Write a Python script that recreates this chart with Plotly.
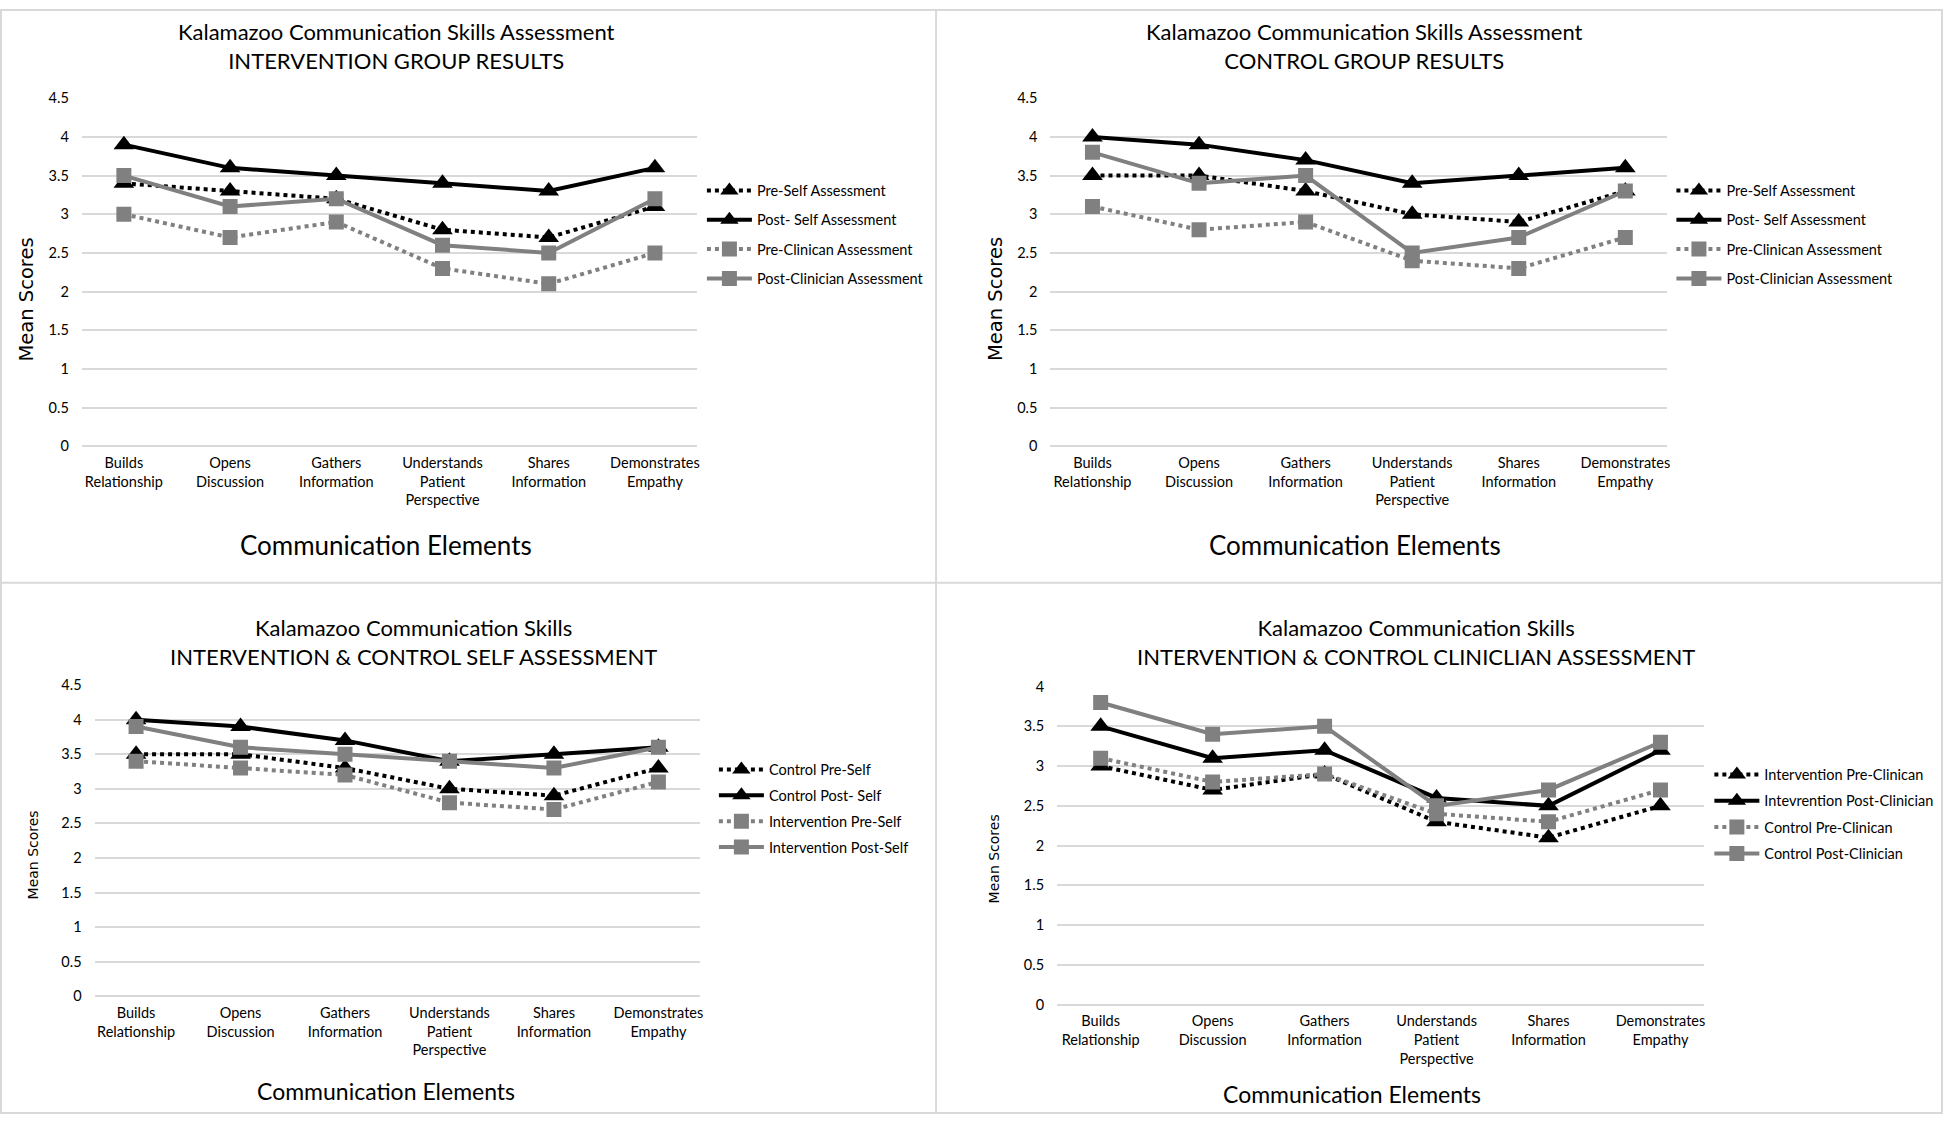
import plotly.graph_objects as go

W, H = 1946, 1122

categories = ["Builds<br>Relationship", "Opens<br>Discussion", "Gathers<br>Information",
              "Understands<br>Patient<br>Perspective", "Shares<br>Information",
              "Demonstrates<br>Empathy"]

# Intervention group
int_pre_self = [3.4, 3.3, 3.2, 2.8, 2.7, 3.1]
int_post_self = [3.9, 3.6, 3.5, 3.4, 3.3, 3.6]
int_pre_clin = [3.0, 2.7, 2.9, 2.3, 2.1, 2.5]
int_post_clin = [3.5, 3.1, 3.2, 2.6, 2.5, 3.2]

# Control group
ctl_pre_self = [3.5, 3.5, 3.3, 3.0, 2.9, 3.3]
ctl_post_self = [4.0, 3.9, 3.7, 3.4, 3.5, 3.6]
ctl_pre_clin = [3.1, 2.8, 2.9, 2.4, 2.3, 2.7]
ctl_post_clin = [3.8, 3.4, 3.5, 2.5, 2.7, 3.3]

yticks_45 = [0, 0.5, 1, 1.5, 2, 2.5, 3, 3.5, 4, 4.5]
yticks_40 = [0, 0.5, 1, 1.5, 2, 2.5, 3, 3.5, 4]
ytext_45 = ["0", "0.5", "1", "1.5", "2", "2.5", "3", "3.5", "4", "4.5"]
ytext_40 = ["0", "0.5", "1", "1.5", "2", "2.5", "3", "3.5", "4"]

titles = [
    "Kalamazoo Communication Skills Assessment<br>INTERVENTION GROUP RESULTS",
    "Kalamazoo Communication Skills Assessment<br>CONTROL GROUP RESULTS",
    "Kalamazoo Communication Skills<br>INTERVENTION & CONTROL SELF ASSESSMENT",
    "Kalamazoo Communication Skills<br>INTERVENTION & CONTROL CLINICLIAN ASSESSMENT",
]
x_title = "Communication Elements"
y_title = "Mean Scores"

panels = [
    [("Pre-Self Assessment", int_pre_self), ("Post- Self Assessment", int_post_self),
     ("Pre-Clinican Assessment", int_pre_clin), ("Post-Clinician Assessment", int_post_clin)],
    [("Pre-Self Assessment", ctl_pre_self), ("Post- Self Assessment", ctl_post_self),
     ("Pre-Clinican Assessment", ctl_pre_clin), ("Post-Clinician Assessment", ctl_post_clin)],
    [("Control Pre-Self", ctl_pre_self), ("Control Post- Self", ctl_post_self),
     ("Intervention Pre-Self", int_pre_self), ("Intervention Post-Self", int_post_self)],
    [("Intervention Pre-Clinican", int_pre_clin), ("Intevrention Post-Clinician", int_post_clin),
     ("Control Pre-Clinican", ctl_pre_clin), ("Control Post-Clinician", ctl_post_clin)],
]

BLACK = "#000000"
GRAY = "#808080"
GRID = "#d9d9d9"
FONT = "Lato, Open Sans, sans-serif"
YFONT = "DejaVu Sans, sans-serif"

styles = [
    dict(color=BLACK, dash="4px,4px", symbol="triangle-up", size=18),
    dict(color=BLACK, dash="solid", symbol="triangle-up", size=18),
    dict(color=GRAY, dash="4px,4px", symbol="square", size=15),
    dict(color=GRAY, dash="solid", symbol="square", size=15),
]

def px(x):
    return x / W

def py(y):
    return 1 - y / H

geo = [
    dict(x0=82, x1=698, y0=90.6, y1=444, ymax=4.5,
         title=(397, 37.5), xt=(387, 544, 26), yt=(27, 295, 19.5),
         leg=(703, 168, 7.5)),
    dict(x0=1052, x1=1670, y0=90.6, y1=444, ymax=4.5,
         title=(1367, 37.5), xt=(1357, 544, 26), yt=(997, 294, 19.5),
         leg=(1674, 168, 7.5)),
    dict(x0=94.7, x1=701, y0=686.5, y1=1002.4, ymax=4.5,
         title=(414.5, 642.5), xt=(387, 1098.5, 23), yt=(34, 858.5, 14),
         leg=(715, 756, 4)),
    dict(x0=1058.7, x1=1706.7, y0=688, y1=1011, ymax=4.0,
         title=(1418, 642.5), xt=(1354, 1102, 23), yt=(995, 863, 14),
         leg=(1712, 761, 4.5)),
]

fig = go.Figure()
layout = dict(
    width=W, height=H,
    margin=dict(l=0, r=0, t=0, b=0),
    paper_bgcolor="white", plot_bgcolor="white",
    font=dict(family=FONT, color="#000000"),
    annotations=[], shapes=[],
)

for i, (series, g) in enumerate(zip(panels, geo)):
    n = i + 1
    sfx = "" if n == 1 else str(n)
    legname = "legend" + sfx
    for j, (name, vals) in enumerate(series):
        st = styles[j]
        fig.add_trace(go.Scatter(
            x=categories, y=vals, name=name, mode="lines+markers",
            line=dict(color=st["color"], width=4, dash=st["dash"]),
            marker=dict(symbol=st["symbol"], size=st["size"], color=st["color"],
                        line=dict(width=0)),
            xaxis="x" + sfx, yaxis="y" + sfx, legend=legname,
            legendgroup=f"p{n}s{j}",
        ))
    tv = yticks_45 if g["ymax"] == 4.5 else yticks_40
    tt = ytext_45 if g["ymax"] == 4.5 else ytext_40
    layout["xaxis" + sfx] = dict(
        domain=[px(g["x0"]), px(g["x1"])], anchor="y" + sfx,
        type="category", showgrid=False, zeroline=False, showline=False,
        ticks="", tickfont=dict(size=14.5, family=FONT, color="#000000"),
        ticklabelstandoff=6, tickangle=0, fixedrange=True,
    )
    layout["yaxis" + sfx] = dict(
        domain=[py(g["y1"]), py(g["y0"])], anchor="x" + sfx,
        range=[0, g["ymax"]], tickvals=tv, ticktext=tt,
        showgrid=True, gridcolor=GRID, gridwidth=2,
        zeroline=True, zerolinecolor=GRID, zerolinewidth=2, showline=False,
        ticks="", tickfont=dict(size=14.5, family=FONT, color="#000000"),
        ticklabelstandoff=12, fixedrange=True,
    )
    lx, ly, gap = g["leg"]
    layout[legname] = dict(
        x=px(lx), y=py(ly), xanchor="left", yanchor="top",
        xref="paper", yref="paper",
        font=dict(size=14.5, family=FONT, color="#000000"),
        bgcolor="rgba(0,0,0,0)", borderwidth=0,
        traceorder="grouped", tracegroupgap=gap, itemwidth=45,
    )
    tx, ty = g["title"]
    layout["annotations"].append(dict(
        x=px(tx), y=py(ty), xref="paper", yref="paper", showarrow=False,
        text=titles[i], xanchor="center", yanchor="middle",
        font=dict(size=22, family=FONT, color="#000000"),
    ))
    ax, ay, asz = g["xt"]
    layout["annotations"].append(dict(
        x=px(ax), y=py(ay), xref="paper", yref="paper", showarrow=False,
        text=x_title, xanchor="center", yanchor="middle",
        font=dict(size=asz, family=FONT, color="#000000"),
    ))
    yx, yy, ysz = g["yt"]
    layout["annotations"].append(dict(
        x=px(yx), y=py(yy), xref="paper", yref="paper", showarrow=False,
        text=y_title, xanchor="center", yanchor="middle", textangle=-90,
        font=dict(size=ysz, family=YFONT, color="#000000"),
    ))

# panel separators and outer frame
sep = dict(color=GRID, width=2)
layout["shapes"] = [
    dict(type="rect", xref="paper", yref="paper", x0=px(1), x1=px(1945), y0=py(1121), y1=py(1),
         line=sep, fillcolor="rgba(0,0,0,0)"),
    dict(type="line", xref="paper", yref="paper", x0=px(937.5), x1=px(937.5), y0=0, y1=1, line=sep),
    dict(type="line", xref="paper", yref="paper", x0=0, x1=1, y0=py(582.5), y1=py(582.5), line=sep),
]

fig.update_layout(**layout)

post = """
document.documentElement.style.margin='0';
document.body.style.margin='0';
document.documentElement.style.overflow='hidden';
document.body.style.overflow='hidden';
"""
fig.write_html("out.html", config={"displayModeBar": False}, post_script=post)
